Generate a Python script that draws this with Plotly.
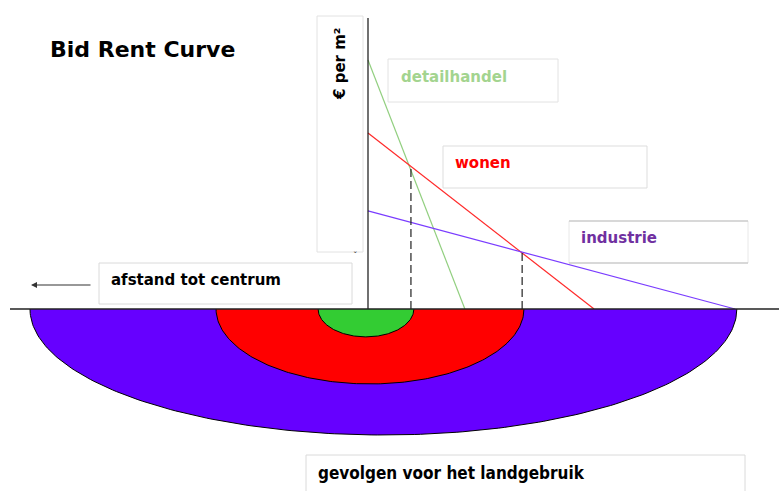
import numpy as np
import plotly.graph_objects as go

# ---------------- data ----------------
land_uses = ["detailhandel", "wonen", "industrie"]
rent_at_center = [100.0, 70.7, 39.4]     # bid rent at the centre (€ per m²)
max_distance = [2.64, 6.16, 10.0]       # distance at which bid rent reaches 0
line_colors = ["#92cf80", "#ff2a2a", "#7a3cff"]
label_colors = ["#a3d48f", "#ff0000", "#7030a0"]

# zone boundaries (distance where the highest bidder changes)
boundary_distance = [1.17, 4.20]

# resulting land-use rings (left edge, right edge, depth below the axis)
ring_left = [-1.36, -4.14, -9.21]
ring_right = [1.25, 4.25, 10.05]
ring_depth = [11.2, 30.1, 50.6]
ring_colors = ["#33cc33", "#ff0000", "#6600ff"]

title_text = "Bid Rent Curve"
y_label = "€ per m²"
x_label = "afstand tot centrum"
bottom_label = "gevolgen voor het landgebruik"

# ---------------- layout helpers ----------------
W, H = 779, 491
X0PX, XS = 368.0, 36.7   # pixel of distance 0, pixels per distance unit
Y0PX, YS = 309.0, 2.49   # pixel of rent 0, pixels per rent unit


def px_x(p):
    return (p - X0PX) / XS


def px_y(p):
    return (Y0PX - p) / YS


def bid_rent(i, d):
    return rent_at_center[i] * (1 - d / max_distance[i])


FONT = "DejaVu Sans"
fig = go.Figure()

# land-use rings (largest first)
for i in reversed(range(len(land_uses))):
    c = (ring_left[i] + ring_right[i]) / 2
    rx = (ring_right[i] - ring_left[i]) / 2
    t = np.linspace(0, np.pi, 181)
    fig.add_trace(go.Scatter(
        x=c + rx * np.cos(t), y=-ring_depth[i] * np.sin(t),
        mode="lines", fill="toself", fillcolor=ring_colors[i],
        line=dict(color="#000000", width=1), hoverinfo="skip", showlegend=False))

# bid rent lines
for i in range(len(land_uses)):
    fig.add_trace(go.Scatter(
        x=[0, max_distance[i]], y=[rent_at_center[i], 0],
        mode="lines", line=dict(color=line_colors[i], width=1.2),
        name=land_uses[i], showlegend=False))

# dashed lines at zone boundaries
for i, d in enumerate(boundary_distance):
    fig.add_trace(go.Scatter(
        x=[d, d], y=[0, bid_rent(i + 1, d)], mode="lines",
        line=dict(color="#222222", width=1.2, dash="8px,4px"),
        hoverinfo="skip", showlegend=False))

shapes = []
# text boxes (pixel boxes)
boxes = [
    (317, 16, 363, 252, "#e2e2e2"),
    (388, 59, 558, 102, "#e2e2e2"),
    (443, 146, 647, 188, "#dddddd"),
    (569, 221, 748, 263, "#e8e8e8"),
    (99, 263, 352, 304, "#dadada"),
    (306, 455, 745, 495, "#dadada"),
]
for x0, y0, x1, y1, col in boxes:
    shapes.append(dict(type="rect", xref="x", yref="y",
                       x0=px_x(x0), x1=px_x(x1), y0=px_y(y0), y1=px_y(y1),
                       line=dict(color=col, width=1), fillcolor="white", layer="below"))
# darker top/bottom edges of the industrie box
for yy in (221, 263):
    shapes.append(dict(type="line", xref="x", yref="y",
                       x0=px_x(569), x1=px_x(748), y0=px_y(yy), y1=px_y(yy),
                       line=dict(color="#bdbdbd", width=1), layer="below"))
# vertical rent axis
shapes.append(dict(type="line", xref="x", yref="y", x0=0, x1=0, y0=0, y1=px_y(18),
                   line=dict(color="#111111", width=1.2)))
# horizontal distance axis
shapes.append(dict(type="line", xref="x", yref="y", x0=px_x(10), x1=px_x(779), y0=0, y1=0,
                   line=dict(color="#222222", width=1.6)))

annotations = []


def label(text, xpx, ypx, size, color, angle=0, xanchor="left", family=FONT):
    annotations.append(dict(
        text=text, x=px_x(xpx), y=px_y(ypx), xref="x", yref="y",
        xanchor=xanchor, yanchor="middle", showarrow=False, textangle=angle,
        font=dict(family=family, size=size, color=color, weight="bold")))


label(title_text, 48, 49, 22, "#000000")
label(y_label, 340, 64, 15, "#000000", angle=-90, xanchor="center")
for i, (xp, yp) in enumerate([(399, 77), (453, 163), (579, 238)]):
    label(land_uses[i], xp, yp, 15, label_colors[i])
label(x_label, 109, 280, 15, "#000000")
label(bottom_label, 316, 473, 17, "#000000", family="DejaVu Sans Condensed, DejaVu Sans")
annotations.append(dict(text="ˇ", x=px_x(355), y=px_y(256), xref="x", yref="y",
                        showarrow=False, font=dict(family=FONT, size=9, color="#333333")))
# arrow towards the centre
annotations.append(dict(text="", x=px_x(31), y=px_y(285), xref="x", yref="y",
                        ax=61, ay=0, axref="pixel", ayref="pixel", showarrow=True,
                        arrowhead=2, arrowsize=1, arrowwidth=1.2, arrowcolor="#333333"))

fig.update_layout(
    width=W, height=H, margin=dict(l=0, r=0, t=0, b=0),
    paper_bgcolor="white", plot_bgcolor="white",
    xaxis=dict(range=[px_x(0), px_x(W)], visible=False, fixedrange=True),
    yaxis=dict(range=[px_y(H), px_y(0)], visible=False, fixedrange=True),
    shapes=shapes, annotations=annotations, showlegend=False,
)
fig.write_html("out.html", config={"displayModeBar": False},
               post_script="document.body.style.margin='0';document.body.style.overflow='hidden';")
